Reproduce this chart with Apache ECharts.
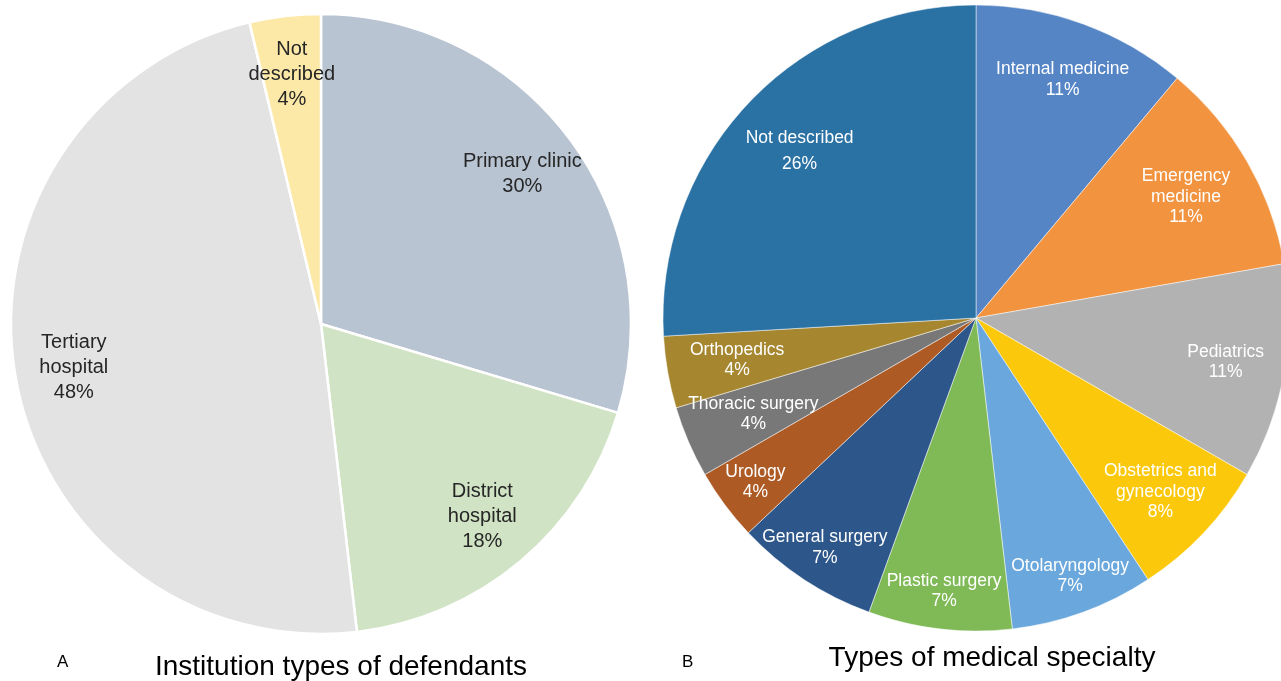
<!DOCTYPE html>
<html>
<head>
<meta charset="utf-8">
<script src="https://cdn.jsdelivr.net/npm/echarts@6/dist/echarts.min.js"></script>
<style>
  html, body { margin: 0; padding: 0; background: #fff; }
  #main { width: 1281px; height: 681px; }
</style>
</head>
<body>
<div id="main"></div>
<script>
// ---- data (counts, n = 27) ----
const institutionNames = ['Primary clinic', 'District hospital', 'Tertiary hospital', 'Not described'];
const institutionCounts = [8, 5, 13, 1];
const institutionPct = ['30%', '18%', '48%', '4%'];
const institutionLabels = ['Primary clinic', 'District\nhospital', 'Tertiary\nhospital', 'Not\ndescribed'];

const specialtyNames = ['Internal medicine', 'Emergency medicine', 'Pediatrics', 'Obstetrics and gynecology',
  'Otolaryngology', 'Plastic surgery', 'General surgery', 'Urology', 'Thoracic surgery', 'Orthopedics', 'Not described'];
const specialtyCounts = [3, 3, 3, 2, 2, 2, 2, 1, 1, 1, 7];
const specialtyPct = ['11%', '11%', '11%', '8%', '7%', '7%', '7%', '4%', '4%', '4%', '26%'];
const specialtyLabels = ['Internal medicine', 'Emergency\nmedicine', 'Pediatrics', 'Obstetrics and\ngynecology',
  'Otolaryngology', 'Plastic surgery', 'General surgery', 'Urology', 'Thoracic surgery', 'Orthopedics', 'Not described'];

// ---- styles ----
const institutionColors = ['#b8c4d2', '#d0e3c4', '#e3e3e3', '#fce9a7'];
const specialtyColors = ['#5585c5', '#f2933f', '#b2b2b2', '#fcc80b', '#6aa7dc', '#7fba57',
  '#2d578a', '#ad5a24', '#787878', '#a6862f', '#2a71a4'];
// which label ring each specialty label sits on (0 = inner, 1 = middle, 2 = outer)
const specialtyRing = [1, 0, 1, 1, 2, 2, 2, 2, 0, 0, 0];
const specialtyRingRadius = [[166, 313], [188, 313], [231, 313]];

const FONT = '"Liberation Sans", Arial, sans-serif';

let chart = echarts.init(document.getElementById('main'));

function makeData(names, counts, colors) {
  return names.map((n, i) => ({ name: n, value: counts[i], itemStyle: { color: colors[i] } }));
}

// transparent rings used only to place labels inside the slices
function labelSeries(center, radius, names, counts, labels, pct, show, labelStyle) {
  return {
    type: 'pie',
    silent: true,
    center: center,
    radius: radius,
    itemStyle: { color: 'transparent' },
    label: Object.assign({ position: 'inside', fontFamily: FONT, formatter: p => p.data.lbl }, labelStyle),
    labelLine: { show: false },
    data: names.map((n, i) => ({
      name: n,
      value: counts[i],
      lbl: labels[i] + '\n' + pct[i],
      label: { show: show(i), lineHeight: n === 'Not described' && labelStyle.color === '#fff' ? 26 : labelStyle.lineHeight }
    }))
  };
}

let series = [
  {
    name: 'Institution types',
    type: 'pie',
    center: [321, 324],
    radius: [0, 310],
    label: { show: false },
    labelLine: { show: false },
    itemStyle: { borderColor: '#fff', borderWidth: 2.5 },
    data: makeData(institutionNames, institutionCounts, institutionColors)
  },
  labelSeries([321, 324], [186, 310], institutionNames, institutionCounts, institutionLabels, institutionPct,
    () => true, { color: '#262626', fontSize: 20, lineHeight: 25 }),
  {
    name: 'Medical specialty',
    type: 'pie',
    center: [976, 318],
    radius: [0, 313],
    label: { show: false },
    labelLine: { show: false },
    itemStyle: { borderColor: 'rgba(255,255,255,0.7)', borderWidth: 0.7 },
    data: makeData(specialtyNames, specialtyCounts, specialtyColors)
  }
];
specialtyRingRadius.forEach((r, k) => {
  series.push(labelSeries([976, 318], r, specialtyNames, specialtyCounts, specialtyLabels, specialtyPct,
    i => specialtyRing[i] === k, { color: '#fff', fontSize: 17.5, lineHeight: 20.5 }));
});

let option = {
  animation: false,
  graphic: [
    { type: 'text', left: 57, top: 654, style: { text: 'A', font: '17px ' + FONT, fill: '#000' } },
    { type: 'text', x: 341, y: 667, style: { text: 'Institution types of defendants', font: '28px ' + FONT, fill: '#000', align: 'center', verticalAlign: 'middle' } },
    { type: 'text', left: 682, top: 654, style: { text: 'B', font: '17px ' + FONT, fill: '#000' } },
    { type: 'text', x: 992, y: 658, style: { text: 'Types of medical specialty', font: '28px ' + FONT, fill: '#000', align: 'center', verticalAlign: 'middle' } }
  ],
  series: series
};
chart.setOption(option);
</script>
</body>
</html>
